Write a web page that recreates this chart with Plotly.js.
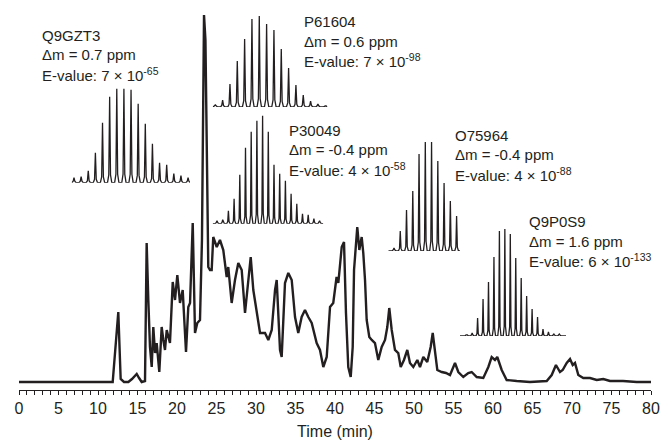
<!DOCTYPE html>
<html><head><meta charset="utf-8">
<script src="https://cdn.plot.ly/plotly-3.0.1.min.js"></script>
<style>html,body{margin:0;padding:0;background:#fff}#chart{width:664px;height:443px}</style>
</head><body><div id="chart"></div>
<script>
// ---- Chromatogram (time in min, relative intensity) ----
const chromTime = [0,11.86,12.57,12.87,13.29,13.84,14.3,14.9,15.2,15.53,15.95,16.16,16.37,16.58,16.8,17.0,17.22,17.43,17.76,18.06,18.27,18.48,18.7,19.11,19.46,19.75,20.04,20.38,20.72,21.14,21.43,21.65,21.99,22.28,22.57,22.91,23.16,23.42,23.6,23.84,23.96,24.18,24.39,24.59,25.03,25.44,25.86,26.29,26.49,26.92,27.34,27.76,28.19,28.61,29.03,29.33,29.66,30.09,30.51,31.14,31.56,31.99,32.41,32.62,33.04,33.25,33.67,34.09,34.52,34.94,35.35,35.78,36.2,36.62,37.05,37.68,38.1,38.52,38.95,39.37,39.78,40.2,40.42,40.85,41.14,41.39,41.68,41.99,42.24,42.41,42.66,42.82,43.08,43.38,43.58,43.8,44.01,44.34,44.65,45.06,45.48,45.91,46.33,46.62,46.87,47.18,47.59,48.01,48.32,48.73,49.15,49.49,49.91,50.42,50.76,51.18,51.68,52.11,52.37,52.66,52.95,53.51,54.05,54.56,55.19,55.61,56.24,56.87,57.3,57.94,58.77,59.41,59.83,60.25,60.54,61.1,61.73,63.0,64.68,66.8,67.43,67.97,68.48,68.82,69.33,69.75,70.09,70.38,70.8,71.43,72.28,73.13,73.96,74.81,76.46,78.19,80];
const chromIntensity = [0,0,70,3,0,0,3,8,4,0,1,139,82,35,15,55,29,39,10,55,42,32,52,39,100,82,107,79,92,30,75,79,159,49,59,62,142,367,342,182,115,112,112,145,135,142,132,105,115,79,102,119,112,69,102,125,92,69,49,49,42,52,92,102,32,25,99,109,102,65,49,65,72,65,59,39,32,15,25,75,79,105,99,135,140,69,15,5,35,112,135,155,132,145,129,102,62,45,42,39,22,35,42,55,74,52,32,29,15,22,32,19,15,22,15,25,20,35,49,29,12,10,9,7,19,10,5,9,10,5,4,15,25,22,25,12,2,1,0,1,7,17,10,12,19,23,17,19,7,4,4,2,3,1,1,0,0];

// ---- Isotope distributions (relative peak heights) ----
const q9gzt3Peaks = [5,6,12,30,60,86,94,94,93,79,59,39,20,18,9,7,5];
const p61604Peaks = [2,7,23,46,68,88,91,83,77,58,39,22,12,6,3,1];
const p30049Peaks = [3,4,13,25,49,76,92,103,108,92,59,50,43,30,20,10,9,5,3];
const o75964Peaks = [3,20,41,60,97,109,109,90,68,50,35,23,14,7,3];
const q9p0s9Peaks = [1,3,18,37,54,79,105,107,102,78,58,40,27,19,7,4,2,2];

// ---- Labels ----
const insetIds = ["Q9GZT3","P61604","P30049","O75964","Q9P0S9"];
const insetDeltaM = ["0.7","0.6","-0.4","-0.4","1.6"];
const insetEMant = ["7","7","4","4","6"];
const insetEExp = ["-65","-98","-58","-88","-133"];
const xTitle = "Time (min)";

// ---- Layout geometry (pixels) ----
const PL = 19, PW = 632, PB = 390, PH = 390;
const insetGeom = [
  {x0:74,   dx:7.13, start:71.7,  end:190,   base:181.7, tx:40,    ty:35},
  {x0:215.3,dx:7.33, start:212.7, end:327.3, base:106,   tx:301.7, ty:21.7},
  {x0:217,  dx:5.7,  start:212.7, end:323.3, base:222.7, tx:287.3, ty:130},
  {x0:394,  dx:6.26, start:388.3, end:484.3, base:250,   tx:452.7, ty:135},
  {x0:466.7,dx:5.45, start:460,   end:566,   base:335,   tx:526.7, ty:221.7}
];
const insetData = [q9gzt3Peaks,p61604Peaks,p30049Peaks,o75964Peaks,q9p0s9Peaks];

const FONT = "Liberation Sans, Arial, Helvetica, sans-serif";
const ink = "#231f20";

const traces = [{
  x: chromTime, y: chromIntensity, type:"scatter", mode:"lines",
  line:{color:ink, width:2.4}, hoverinfo:"skip", showlegend:false
}];

const layout = {
  width:664, height:443,
  margin:{l:PL, r:664-PL-PW, t:0, b:443-PB},
  paper_bgcolor:"#fff", plot_bgcolor:"#fff",
  showlegend:false,
  font:{family:FONT, size:15, color:ink},
  xaxis:{range:[0,80], showgrid:false, zeroline:false, showline:true, linecolor:ink, linewidth:1,
    ticks:"outside", ticklen:4, tickwidth:1, tickcolor:ink, dtick:5, tick0:0,
    minor:{dtick:1, ticks:"outside", ticklen:4, tickwidth:1, tickcolor:ink, showgrid:false},
    tickfont:{family:FONT, size:16, color:ink},
    title:{text:xTitle, font:{family:FONT, size:16, color:ink}, standoff:9}},
  yaxis:{range:[-8,382], visible:false, showgrid:false, zeroline:false},
  annotations:[]
};

function ann(text, px, py){
  return {xref:"paper", yref:"paper", x:(px-PL)/PW, y:(PB-py)/PH, xanchor:"left", yanchor:"middle",
    showarrow:false, text:text, font:{family:FONT, size:15, color:ink}, align:"left"};
}

insetData.forEach((peaks, k) => {
  const g = insetGeom[k];
  const ax = k + 2;
  const xs = [], ys = [];
  const iStart = (g.start - g.x0)/g.dx, iEnd = (g.end - g.x0)/g.dx;
  xs.push(iStart); ys.push(0);
  peaks.forEach((h, i) => {
    xs.push(i-0.3, i-0.12, i, i+0.12, i+0.3);
    ys.push(0, 0.08*h+1, h, 0.08*h+1, 0);
  });
  xs.push(iEnd); ys.push(0);
  const R = Math.max(...peaks) + 4;
  traces.push({x:xs, y:ys, type:"scatter", mode:"lines", line:{color:ink, width:1.3},
    xaxis:"x"+ax, yaxis:"y"+ax, hoverinfo:"skip", showlegend:false});
  layout["xaxis"+ax] = {domain:[(g.start-PL)/PW, (g.end-PL)/PW], range:[iStart, iEnd], visible:false, anchor:"y"+ax, fixedrange:true};
  layout["yaxis"+ax] = {domain:[(PB-g.base-1)/PH, (PB-g.base+R-1)/PH], range:[0,R], visible:false, anchor:"x"+ax, fixedrange:true};
  layout.annotations.push(ann(insetIds[k], g.tx, g.ty));
  layout.annotations.push(ann("Δm = " + insetDeltaM[k] + " ppm", g.tx, g.ty+19.5));
  layout.annotations.push(ann("E-value: " + insetEMant[k] + " × 10<sup>" + insetEExp[k] + "</sup>", g.tx, g.ty+39));
});

Plotly.newPlot("chart", traces, layout, {staticPlot:true, displayModeBar:false});
</script></body></html>
